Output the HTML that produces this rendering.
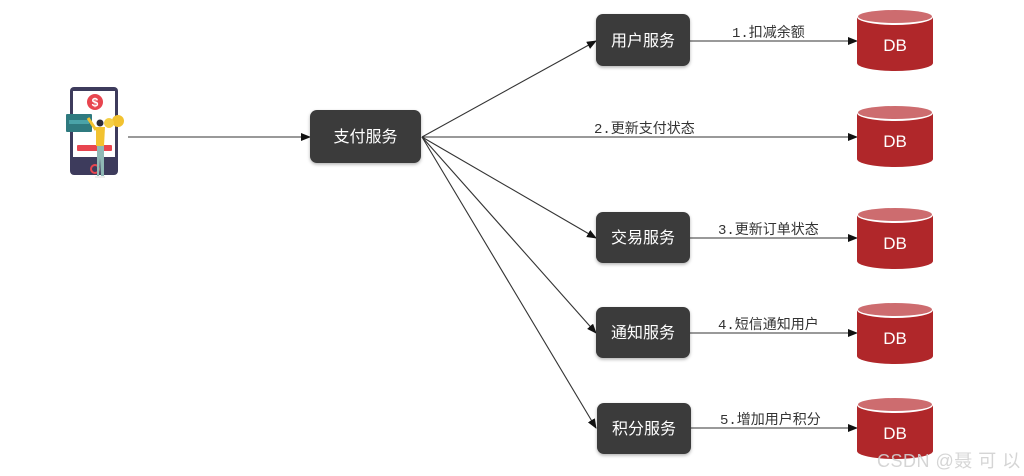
<!DOCTYPE html>
<html><head><meta charset="utf-8"><style>
html,body{margin:0;padding:0;background:#fff;}
body{width:1024px;height:476px;overflow:hidden;}
svg{display:block;}
.bx{fill:#3a3a3a;}
.bt{font-family:"Liberation Sans","Noto Sans CJK SC",sans-serif;font-size:16px;fill:#fff;}
.lb{font-family:"Liberation Mono","Noto Sans CJK SC",monospace;font-size:14px;fill:#333;}
.db{font-family:"Liberation Sans",sans-serif;font-size:17px;fill:#fff;}
.ln{stroke:#333;stroke-width:1.1;fill:none;}
</style></head><body>
<svg width="1024" height="476" viewBox="0 0 1024 476" xmlns="http://www.w3.org/2000/svg">
<defs>
<marker id="ar" markerWidth="10" markerHeight="10" refX="9" refY="4" orient="auto" markerUnits="userSpaceOnUse">
<path d="M0,0 L10,4 L0,8 z" fill="#111"/>
</marker>
<filter id="sh" x="-10%" y="-10%" width="120%" height="130%">
<feDropShadow dx="0" dy="1.5" stdDeviation="1.5" flood-color="#000" flood-opacity="0.3"/>
</filter>
<g id="cyl">
<path d="M0,8 L0,54 A38,8 0 0 0 76,54 L76,8 z" fill="#b0272a"/>
<ellipse cx="38" cy="8" rx="38" ry="8" fill="#fff"/>
<ellipse cx="38" cy="7.5" rx="37" ry="6.5" fill="#cd6c6f"/>
<text x="38" y="42" text-anchor="middle" class="db">DB</text>
</g>
</defs>

<!-- phone icon -->
<g>
<rect x="70" y="87" width="48" height="88" rx="4" fill="#3d3b5c"/>
<rect x="73" y="91" width="42" height="66" fill="#fff"/>
<circle cx="95" cy="102" r="8" fill="#e8454f"/>
<text x="95" y="106.5" text-anchor="middle" font-family="Liberation Sans,sans-serif" font-size="12" font-weight="bold" fill="#fff">$</text>
<rect x="66" y="114" width="26" height="18" rx="1" fill="#2f7a7f"/>
<rect x="69" y="120" width="20" height="4" fill="#4aa3a8"/>
<circle cx="118" cy="121" r="6" fill="#f2c230"/>
<circle cx="109" cy="123" r="5" fill="#f4cf45"/>
<rect x="77" y="145" width="35" height="6" rx="1" fill="#e8454f"/>
<circle cx="95" cy="169" r="4" fill="none" stroke="#e8454f" stroke-width="2"/>
<path d="M88,118 L96,130" stroke="#f2c230" stroke-width="3"/>
<circle cx="100" cy="123" r="3.5" fill="#2b2b3a"/>
<path d="M96,127 L105,127 L104,146 L96,146 z" fill="#f2c230"/>
<path d="M97,146 L104,146 L104,176 L101,176 L100,158 L99,176 L97,176 z" fill="#8fb8b5"/>
<rect x="95" y="176" width="10" height="2" fill="#eee"/>
</g>

<!-- connectors -->
<line x1="128" y1="137" x2="310" y2="137" class="ln" marker-end="url(#ar)"/>
<line x1="422" y1="137" x2="596" y2="41" class="ln" marker-end="url(#ar)"/>
<line x1="422" y1="137" x2="857" y2="137" class="ln" marker-end="url(#ar)"/>
<line x1="422" y1="137" x2="596" y2="238" class="ln" marker-end="url(#ar)"/>
<line x1="422" y1="137" x2="596" y2="333" class="ln" marker-end="url(#ar)"/>
<line x1="422" y1="137" x2="596" y2="428" class="ln" marker-end="url(#ar)"/>

<line x1="690" y1="41" x2="857" y2="41" class="ln" marker-end="url(#ar)"/>
<line x1="690" y1="238" x2="857" y2="238" class="ln" marker-end="url(#ar)"/>
<line x1="690" y1="333" x2="857" y2="333" class="ln" marker-end="url(#ar)"/>
<line x1="690" y1="428" x2="857" y2="428" class="ln" marker-end="url(#ar)"/>

<!-- labels -->
<text x="732" y="37" class="lb">1.扣减余额</text>
<text x="594" y="133" class="lb">2.更新支付状态</text>
<text x="718" y="234" class="lb">3.更新订单状态</text>
<text x="718" y="329" class="lb">4.短信通知用户</text>
<text x="720" y="424" class="lb">5.增加用户积分</text>

<!-- boxes -->
<g filter="url(#sh)">
<rect x="310" y="110" width="111" height="53" rx="7" class="bx"/>
<rect x="596" y="14" width="94" height="52" rx="7" class="bx"/>
<rect x="596" y="212" width="94" height="51" rx="7" class="bx"/>
<rect x="596" y="307" width="94" height="51" rx="7" class="bx"/>
<rect x="597" y="403" width="94" height="51" rx="7" class="bx"/>
</g>
<text x="365.5" y="142" text-anchor="middle" class="bt">支付服务</text>
<text x="643" y="46" text-anchor="middle" class="bt">用户服务</text>
<text x="643" y="243" text-anchor="middle" class="bt">交易服务</text>
<text x="643" y="338" text-anchor="middle" class="bt">通知服务</text>
<text x="644" y="434" text-anchor="middle" class="bt">积分服务</text>

<!-- DBs -->
<use href="#cyl" x="857" y="9"/>
<use href="#cyl" x="857" y="105"/>
<use href="#cyl" x="857" y="207"/>
<use href="#cyl" x="857" y="302"/>
<use href="#cyl" x="857" y="397"/>

<!-- watermark -->
<text x="877" y="467" font-family="Liberation Sans,'Noto Sans CJK SC',sans-serif" font-size="18" letter-spacing="0.5" fill="#d0d0d0" fill-opacity="0.9">CSDN @聂 可 以</text>
</svg>
</body></html>
